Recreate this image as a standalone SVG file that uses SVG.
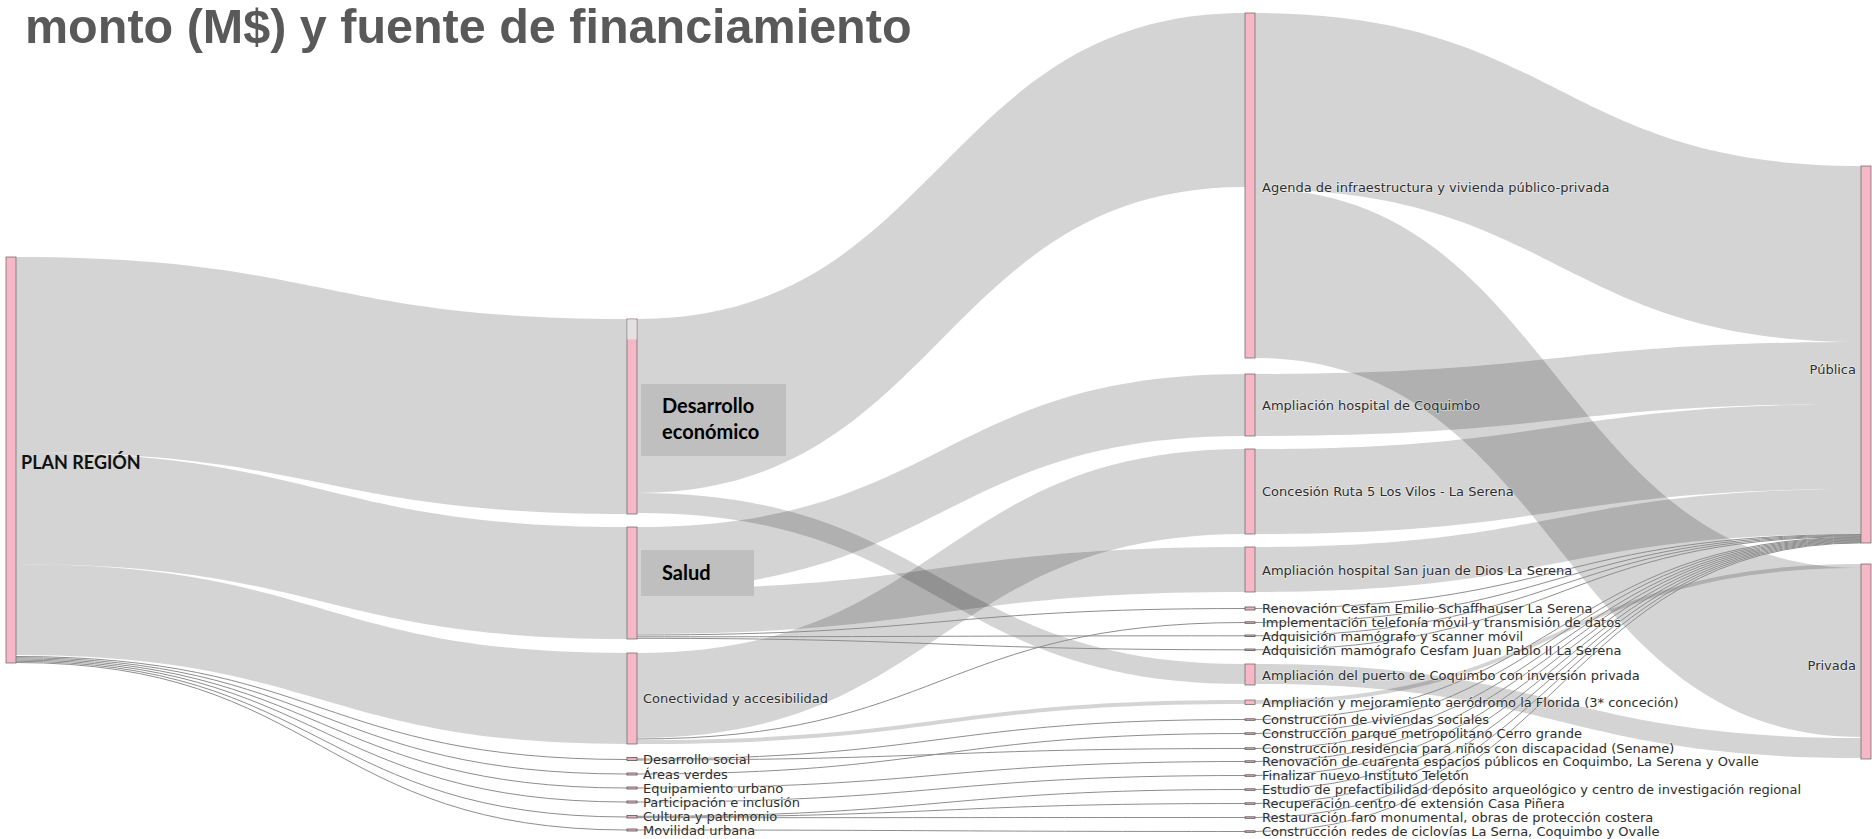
<svg xmlns="http://www.w3.org/2000/svg" width="1872" height="839" viewBox="0 0 1872 839">
<style>
.lk{fill:#000;fill-opacity:.17}
.tl{fill:none;stroke:#8e8e8e;stroke-width:1}
.nd{fill:#f6b7c6;stroke:#707070;stroke-width:.8}
.sn{fill:#f0b0c0;stroke:#555;stroke-width:.8}
.lb{font-family:"DejaVu Sans",Verdana,sans-serif;font-size:13px;fill:#2e2e2e;paint-order:stroke;stroke:#fff;stroke-width:1.5px;stroke-opacity:.45}
.bx{fill:#bfbfbf}
.bt{font-family:Lato,"Noto Sans",sans-serif;font-weight:700;font-size:20px;fill:#000}
.title{font-family:"Liberation Sans",Arial,sans-serif;font-weight:700;font-size:48.5px;fill:#595959}
</style>
<rect width="1872" height="839" fill="#fff"/>
<text class="title" x="25" y="43">monto (M$) y fuente de financiamiento</text>

<g id="connectors">
<!-- column 1 to column 2 -->
<path class="lk" d="M16,257C321.5,257 321.5,319 627,319L627,514C321.5,514 321.5,452 16,452Z"/>
<path class="lk" d="M16,452C321.5,452 321.5,527 627,527L627,639C321.5,639 321.5,564 16,564Z"/>
<path class="lk" d="M16,564C321.5,564 321.5,653 627,653L627,744C321.5,744 321.5,655 16,655Z"/>
<path class="tl" d="M16,656.5C321.5,656.5 321.5,759.5 627,759.5"/>
<path class="tl" d="M16,657.7C321.5,657.7 321.5,774 627,774"/>
<path class="tl" d="M16,658.9C321.5,658.9 321.5,788 627,788"/>
<path class="tl" d="M16,660.1C321.5,660.1 321.5,802 627,802"/>
<path class="tl" d="M16,661.3C321.5,661.3 321.5,817 627,817"/>
<path class="tl" d="M16,662.5C321.5,662.5 321.5,830 627,830"/>
<!-- column 2 to column 3 -->
<path class="lk" d="M637,319C941,319 941,13 1245,13L1245,187C941,187 941,493 637,493Z"/>
<path class="lk" d="M637,493C941,493 941,664 1245,664L1245,684C941,684 941,513 637,513Z"/>
<path class="lk" d="M637,527C941,527 941,374 1245,374L1245,436C941,436 941,589 637,589Z"/>
<path class="lk" d="M637,589C941,589 941,547 1245,547L1245,592C941,592 941,634 637,634Z"/>
<path class="lk" d="M637,653C941,653 941,449 1245,449L1245,534C941,534 941,738 637,738Z"/>
<path class="lk" d="M637,740C941,740 941,700 1245,700L1245,704C941,704 941,744 637,744Z"/>
<path class="tl" d="M637,635C941,635 941,608.5 1245,608.5"/>
<path class="tl" d="M637,636.8C941,636.8 941,635.8 1245,635.8"/>
<path class="tl" d="M637,638.3C941,638.3 941,649.8 1245,649.8"/>
<path class="tl" d="M637,739C941,739 941,622.5 1245,622.5"/>
<path class="tl" d="M637,759C941,759 941,719.5 1245,719.5"/>
<path class="tl" d="M637,760C941,760 941,748.5 1245,748.5"/>
<path class="tl" d="M637,774C941,774 941,733.5 1245,733.5"/>
<path class="tl" d="M637,788C941,788 941,761.5 1245,761.5"/>
<path class="tl" d="M637,802C941,802 941,775.5 1245,775.5"/>
<path class="tl" d="M637,816.3C941,816.3 941,789.5 1245,789.5"/>
<path class="tl" d="M637,817C941,817 941,803.5 1245,803.5"/>
<path class="tl" d="M637,817.7C941,817.7 941,817.5 1245,817.5"/>
<path class="tl" d="M637,830C941,830 941,831.5 1245,831.5"/>
<!-- column 3 to column 4 -->
<path class="lk" d="M1255,13C1558,13 1558,166 1861,166L1861,342C1558,342 1558,189 1255,189Z"/>
<path class="lk" d="M1255,189C1558,189 1558,568 1861,568L1861,737C1558,737 1558,358 1255,358Z"/>
<path class="lk" d="M1255,374C1558,374 1558,342 1861,342L1861,404C1558,404 1558,436 1255,436Z"/>
<path class="lk" d="M1255,449C1558,449 1558,404 1861,404L1861,489C1558,489 1558,534 1255,534Z"/>
<path class="lk" d="M1255,547C1558,547 1558,489 1861,489L1861,534C1558,534 1558,592 1255,592Z"/>
<path class="lk" d="M1255,664C1558,664 1558,738 1861,738L1861,758C1558,758 1558,684 1255,684Z"/>
<path class="lk" d="M1255,700C1558,700 1558,564 1861,564L1861,568C1558,568 1558,704 1255,704Z"/>
<path class="tl" d="M1255,608.5C1558,608.5 1558,534.5 1861,534.5"/>
<path class="tl" d="M1255,622.5C1558,622.5 1558,535.2 1861,535.2"/>
<path class="tl" d="M1255,635.8C1558,635.8 1558,535.9 1861,535.9"/>
<path class="tl" d="M1255,649.8C1558,649.8 1558,536.6 1861,536.6"/>
<path class="tl" d="M1255,719.5C1558,719.5 1558,537.3 1861,537.3"/>
<path class="tl" d="M1255,733.5C1558,733.5 1558,538 1861,538"/>
<path class="tl" d="M1255,748.5C1558,748.5 1558,538.7 1861,538.7"/>
<path class="tl" d="M1255,761.5C1558,761.5 1558,539.4 1861,539.4"/>
<path class="tl" d="M1255,775.5C1558,775.5 1558,540.1 1861,540.1"/>
<path class="tl" d="M1255,789.5C1558,789.5 1558,540.8 1861,540.8"/>
<path class="tl" d="M1255,803.5C1558,803.5 1558,541.5 1861,541.5"/>
<path class="tl" d="M1255,817.5C1558,817.5 1558,542.2 1861,542.2"/>
<path class="tl" d="M1255,831.5C1558,831.5 1558,542.9 1861,542.9"/>
</g>

<g id="plan-region">
<rect class="nd" x="6" y="257" width="10" height="406"/>
<text x="21" y="469" style="font-family:Lato,'Noto Sans',sans-serif;font-weight:700;font-size:18px;fill:#111">PLAN REGIÓN</text>
</g>

<g id="desarrollo-economico">
<rect class="nd" x="627" y="319" width="10" height="195"/>
<rect x="627.4" y="319.4" width="9.2" height="20" fill="#e2e2e2"/>
<rect class="bx" x="641" y="384" width="145" height="72"/>
<text class="bt" x="662" y="413">Desarrollo</text>
<text class="bt" x="662" y="439">económico</text>
</g>
<g id="salud">
<rect class="nd" x="627" y="527" width="10" height="112"/>
<rect class="bx" x="641" y="550" width="113" height="46"/>
<text class="bt" x="662" y="580">Salud</text>
</g>
<g id="conectividad">
<rect class="nd" x="627" y="653" width="10" height="91"/>
<text class="lb" x="643" y="703">Conectividad y accesibilidad</text>
</g>
<g id="desarrollo-social"><rect class="sn" x="627" y="757.5" width="10" height="3"/><text class="lb" x="643" y="764">Desarrollo social</text></g>
<g id="areas-verdes"><rect class="sn" x="627" y="773" width="10" height="2"/><text class="lb" x="643" y="779">Áreas verdes</text></g>
<g id="equipamiento-urbano"><rect class="sn" x="627" y="787" width="10" height="2"/><text class="lb" x="643" y="793">Equipamiento urbano</text></g>
<g id="participacion"><rect class="sn" x="627" y="801" width="10" height="2"/><text class="lb" x="643" y="807">Participación e inclusión</text></g>
<g id="cultura"><rect class="sn" x="627" y="815.5" width="10" height="2.5"/><text class="lb" x="643" y="821">Cultura y patrimonio</text></g>
<g id="movilidad"><rect class="sn" x="627" y="829" width="10" height="2"/><text class="lb" x="643" y="835">Movilidad urbana</text></g>

<g id="agenda"><rect class="nd" x="1245" y="13" width="10" height="345"/><text class="lb" x="1262" y="192">Agenda de infraestructura y vivienda público-privada</text></g>
<g id="hospital-coquimbo"><rect class="nd" x="1245" y="374" width="10" height="62"/><text class="lb" x="1262" y="410">Ampliación hospital de Coquimbo</text></g>
<g id="concesion"><rect class="nd" x="1245" y="449" width="10" height="85"/><text class="lb" x="1262" y="496">Concesión Ruta 5 Los Vilos - La Serena</text></g>
<g id="san-juan"><rect class="nd" x="1245" y="547" width="10" height="45"/><text class="lb" x="1262" y="575">Ampliación hospital San juan de Dios La Serena</text></g>
<g id="cesfam-schaffhauser"><rect class="sn" x="1245" y="607" width="10" height="3"/><text class="lb" x="1262" y="613">Renovación Cesfam Emilio Schaffhauser La Serena</text></g>
<g id="telefonia"><rect class="sn" x="1245" y="621.8" width="10" height="1.5"/><text class="lb" x="1262" y="627">Implementación telefonía móvil y transmisión de datos</text></g>
<g id="mamografo-scanner"><rect class="sn" x="1245" y="635" width="10" height="1.5"/><text class="lb" x="1262" y="641">Adquisición mamógrafo y scanner móvil</text></g>
<g id="mamografo-jp2"><rect class="sn" x="1245" y="649" width="10" height="1.5"/><text class="lb" x="1262" y="655">Adquisición mamógrafo Cesfam Juan Pablo II La Serena</text></g>
<g id="puerto"><rect class="nd" x="1245" y="664" width="10" height="21"/><text class="lb" x="1262" y="680">Ampliación del puerto de Coquimbo con inversión privada</text></g>
<g id="aerodromo"><rect class="nd" x="1245" y="700" width="10" height="4.5"/><text class="lb" x="1262" y="707">Ampliación y mejoramiento aeródromo la Florida (3* conceción)</text></g>
<g id="viviendas"><rect class="sn" x="1245" y="718.8" width="10" height="1.5"/><text class="lb" x="1262" y="724">Construcción de viviendas sociales</text></g>
<g id="parque"><rect class="sn" x="1245" y="732.8" width="10" height="1.5"/><text class="lb" x="1262" y="738">Construcción parque metropolitano Cerro grande</text></g>
<g id="residencia"><rect class="sn" x="1245" y="747.8" width="10" height="1.5"/><text class="lb" x="1262" y="753">Construcción residencia para niños con discapacidad (Sename)</text></g>
<g id="espacios-publicos"><rect class="sn" x="1245" y="760.8" width="10" height="1.5"/><text class="lb" x="1262" y="766">Renovación de cuarenta espacios públicos en Coquimbo, La Serena y Ovalle</text></g>
<g id="teleton"><rect class="sn" x="1245" y="774.8" width="10" height="1.5"/><text class="lb" x="1262" y="780">Finalizar nuevo Instituto Teletón</text></g>
<g id="estudio"><rect class="sn" x="1245" y="788.8" width="10" height="1.5"/><text class="lb" x="1262" y="794">Estudio de prefactibilidad depósito arqueológico y centro de investigación regional</text></g>
<g id="casa-pinera"><rect class="sn" x="1245" y="802.8" width="10" height="1.5"/><text class="lb" x="1262" y="808">Recuperación centro de extensión Casa Piñera</text></g>
<g id="faro"><rect class="sn" x="1245" y="816.8" width="10" height="1.5"/><text class="lb" x="1262" y="822">Restauración faro monumental, obras de protección costera</text></g>
<g id="ciclovias"><rect class="sn" x="1245" y="830.8" width="10" height="1.5"/><text class="lb" x="1262" y="836">Construcción redes de ciclovías La Serna, Coquimbo y Ovalle</text></g>

<g id="publica"><rect class="nd" x="1861" y="166" width="10" height="377"/><text class="lb" x="1856" y="374" text-anchor="end">Pública</text></g>
<g id="privada"><rect class="nd" x="1861" y="564" width="10" height="195"/><text class="lb" x="1856" y="670" text-anchor="end">Privada</text></g>
</svg>
